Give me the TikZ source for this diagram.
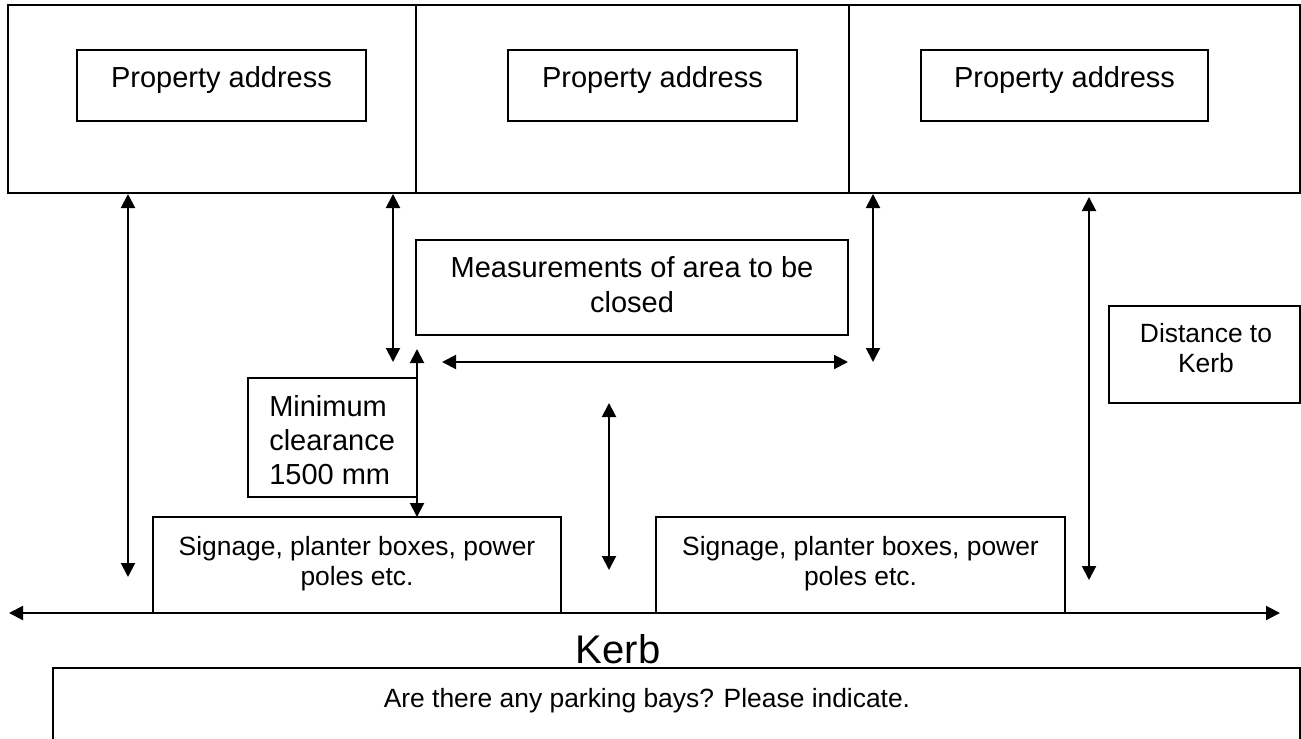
\documentclass[tikz,border=0pt]{standalone}
\usepackage{fontspec}
\setmainfont{Liberation Sans}
\usetikzlibrary{arrows.meta,fit}
\begin{document}
\begin{tikzpicture}[x=0.75pt,y=-0.75pt,
  box/.style={draw,line width=1.5pt,inner sep=0pt},
  ln/.style={line width=1.5pt},
  dim/.style={line width=1.5pt,{Triangle[length=10.5pt,width=10.5pt]}-{Triangle[length=10.5pt,width=10.5pt]}},
  big/.style={font=\fontsize{21.75pt}{25.5pt}\selectfont,inner sep=0pt,anchor=base},
  mid/.style={font=\fontsize{19.8pt}{22.5pt}\selectfont,inner sep=0pt,anchor=base},
  kerbtxt/.style={font=\fontsize{30pt}{36pt}\selectfont,inner sep=0pt,anchor=base}]
\useasboundingbox (0,0) rectangle (1301,738);

% top frame with three properties
\node[box,fit={(8,5)(1300,193)}] (frame) {};
\coordinate (d1t) at (416,5); \coordinate (d1b) at (416,193);
\coordinate (d2t) at (849,5); \coordinate (d2b) at (849,193);
\draw[ln] (d1t) -- (d1b);
\draw[ln] (d2t) -- (d2b);

\node[box,fit={(77,50)(366,121)}] (p1) {};
\node[box,fit={(508,50)(797,121)}] (p2) {};
\node[box,fit={(921,50)(1208,121)}] (p3) {};
\node[big] (p1t) at (221.5,88) {Property address};
\node[big] (p2t) at (652.5,88) {Property address};
\node[big] (p3t) at (1064.5,88) {Property address};

% measurements box
\node[box,fit={(416,240)(848,335)}] (meas) {};
\node[big] (meas1) at (632,277) {Measurements of area to be};
\node[big] (meas2) at (632,312) {closed};

% minimum clearance box
\node[box,fit={(248,378)(417,497)}] (minb) {};
\node[big,anchor=base west] (min1) at (269,416) {Minimum};
\node[big,anchor=base west] (min2) at (269,450) {clearance};
\node[big,anchor=base west] (min3) at (269,484) {1500 mm};

% signage boxes
\node[box,fit={(153,517)(561,613)}] (sig1) {};
\node[mid] (sig1a) at (357,555) {Signage, planter boxes, power};
\node[mid] (sig1b) at (357,585) {poles etc.};
\node[box,fit={(656,517)(1065,613)}] (sig2) {};
\node[mid] (sig2a) at (860.5,555) {Signage, planter boxes, power};
\node[mid] (sig2b) at (860.5,585) {poles etc.};

% distance to kerb
\node[box,fit={(1109,306)(1300,403)}] (dist) {};
\node[mid] (dist1) at (1206,342) {Distance to};
\node[mid] (dist2) at (1206,372) {Kerb};

% kerb
\coordinate (kl) at (9,613); \coordinate (kr) at (1280,613);
\draw[dim] (kl) -- (kr);
\node[kerbtxt] (kerb) at (618,663) {Kerb};

% parking bays box
\node[box,fit={(53,668)(1300,760)}] (park) {};
\node[mid] (parkt) at (647,707) {Are there any parking bays? Please indicate.};

% dimension arrows
\coordinate (a1t) at (128,194); \coordinate (a1b) at (128,577);
\coordinate (a2t) at (393,194); \coordinate (a2b) at (393,362);
\coordinate (a3t) at (417,349); \coordinate (a3b) at (417,517);
\coordinate (a4l) at (442,362); \coordinate (a4r) at (848,362);
\coordinate (a5t) at (873,194); \coordinate (a5b) at (873,362);
\coordinate (a6t) at (609,403); \coordinate (a6b) at (609,570);
\coordinate (a7t) at (1089,197); \coordinate (a7b) at (1089,580);
\draw[dim] (a1t) -- (a1b);
\draw[dim] (a2t) -- (a2b);
\draw[dim] (a3t) -- (a3b);
\draw[dim] (a4l) -- (a4r);
\draw[dim] (a5t) -- (a5b);
\draw[dim] (a6t) -- (a6b);
\draw[dim] (a7t) -- (a7b);
\end{tikzpicture}
\end{document}
